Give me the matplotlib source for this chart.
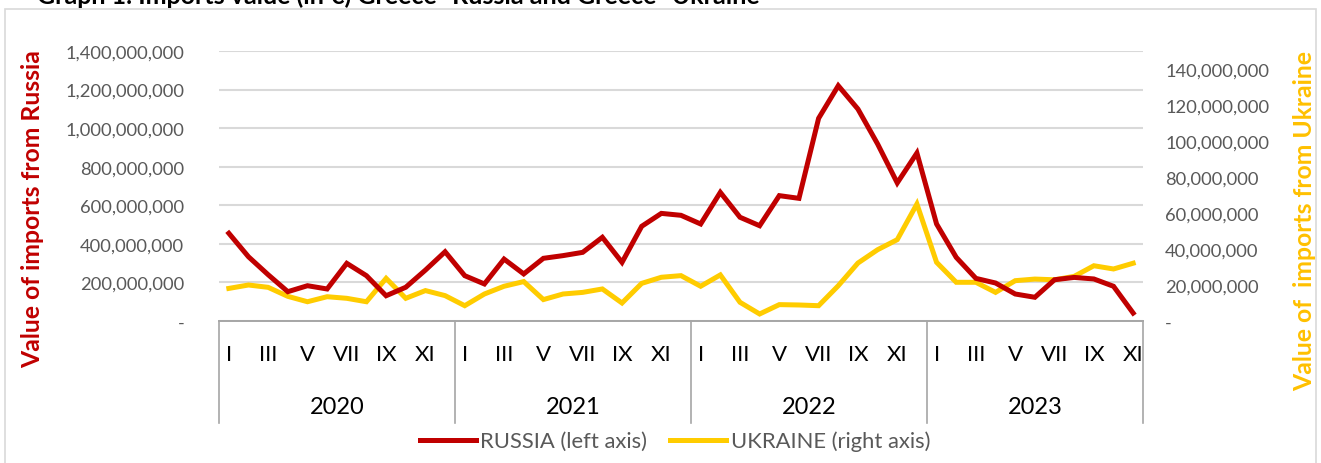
import matplotlib
matplotlib.use("Agg")
import matplotlib.pyplot as plt
from matplotlib.patches import Rectangle
from matplotlib.ticker import FuncFormatter

plt.rcParams['font.family'] = ['Lato', 'DejaVu Sans']

years = ["2020", "2021", "2022", "2023"]
months_per_year = [12, 12, 12, 11]
month_names = ["I", "II", "III", "IV", "V", "VI", "VII", "VIII", "IX", "X", "XI", "XII"]

# monthly import values in EUR
russia = [455e6, 333e6, 240e6, 152e6, 183e6, 166e6, 299e6, 235e6, 131e6, 175e6, 264e6, 359e6,
          235e6, 192e6, 321e6, 244e6, 325e6, 339e6, 356e6, 434e6, 304e6, 491e6, 558e6, 548e6,
          503e6, 667e6, 538e6, 494e6, 650e6, 636e6, 1051e6, 1220e6, 1099e6, 918e6, 716e6, 871e6,
          503e6, 330e6, 221e6, 197e6, 140e6, 123e6, 214e6, 226e6, 218e6, 180e6, 41e6]
ukraine = [18.1e6, 20.0e6, 18.7e6, 13.7e6, 10.7e6, 13.5e6, 12.6e6, 10.7e6, 23.7e6, 12.6e6, 16.9e6, 14.1e6,
           8.5e6, 15.0e6, 19.3e6, 21.9e6, 11.9e6, 15.0e6, 15.9e6, 17.8e6, 10.0e6, 20.9e6, 24.3e6, 25.2e6,
           19.3e6, 25.6e6, 10.4e6, 3.9e6, 9.1e6, 8.9e6, 8.5e6, 19.6e6, 32.2e6, 39.6e6, 45.2e6, 65.0e6,
           32.6e6, 21.5e6, 21.5e6, 15.9e6, 22.4e6, 23.3e6, 22.9e6, 24.8e6, 30.7e6, 28.9e6, 32.1e6]

RED = "#C00000"
GOLD = "#FFC000"
YLINE = "#FFCC00"
W, H = 1321, 464

fig = plt.figure(figsize=(W / 100, H / 100), dpi=100)

# outer frame
fig.patches.append(Rectangle((5 / W, -0.02), 1311 / W, 1 - 10 / H + 0.02, transform=fig.transFigure,
                             fill=False, edgecolor="#D9D9D9", lw=1.2))
fig.text(37 / W, 1 - 4 / H, "Graph 1. Imports value (in \u20ac) Greece- Russia and Greece- Ukraine",
         fontsize=18, fontweight="bold", va="baseline", ha="left")

x0, x1, ytop, ybot = 219, 1143, 52, 322
ax = fig.add_axes([x0 / W, 1 - ybot / H, (x1 - x0) / W, (ybot - ytop) / H])
ax2 = ax.twinx()

n = len(russia)
x = list(range(n))
ax.set_xlim(-0.5, n - 0.5)
ax.set_ylim(0, 1.4e9)
ax.set_yticks([i * 200e6 for i in range(8)])
ax2.set_ylim(0, 150e6)
ax2.set_yticks([i * 20e6 for i in range(8)])

fmt = FuncFormatter(lambda v, p: "-" if v == 0 else "{:,.0f}".format(v))
ax.yaxis.set_major_formatter(fmt)
ax2.yaxis.set_major_formatter(fmt)

ax.grid(axis="y", color="#D9D9D9", lw=1.5)
ax.set_axisbelow(True)
for a in (ax, ax2):
    for s in ("top", "left", "right"):
        a.spines[s].set_visible(False)
    a.spines["bottom"].set_color("#A6A6A6")
    a.spines["bottom"].set_linewidth(1.2)
ax.tick_params(axis="y", length=0, pad=25, labelsize=13.2, labelcolor="#595959")
ax2.tick_params(axis="y", length=0, pad=16, labelsize=13.2, labelcolor="#595959")
ax.set_xticks([])

ax2.plot(x, ukraine, color=YLINE, lw=3.6, solid_joinstyle="miter", zorder=2, label="UKRAINE (right axis)")
ax2.plot(x, [v / 1.4e9 * 150e6 for v in russia], color=RED, lw=3.6,
         solid_joinstyle="miter", zorder=3, label="RUSSIA (left axis)")

# category axis: months and years
tr = ax.get_xaxis_transform()
start = 0
bounds = [-0.5]
for yr, cnt in zip(years, months_per_year):
    for m in range(0, cnt, 2):
        ax.text(start + m, -0.122, month_names[m], transform=tr, ha="center", va="center",
                fontsize=16, clip_on=False)
    ax.text(start + (cnt - 1) / 2, -0.318, yr, transform=tr, ha="center", va="center",
            fontsize=17, clip_on=False)
    start += cnt
    bounds.append(start - 0.5)
for b in bounds:
    ax.plot([b, b], [0, -0.378], transform=tr, color="#A6A6A6", lw=1.2, clip_on=False)

ax.set_ylabel("Value of imports from Russia", color=RED, fontsize=17.8, fontweight="bold",
              va="center", ha="center")
ax.yaxis.set_label_coords(-(x0 - 33) / (x1 - x0), (ybot - 209) / (ybot - ytop))
ax2.set_ylabel("Value of  imports from Ukraine", color=GOLD, fontsize=17.8, fontweight="bold",
               rotation=90, va="center", ha="center")
ax2.yaxis.set_label_coords((1305 - x0) / (x1 - x0), (ybot - 221) / (ybot - ytop))

h2, l2 = ax2.get_legend_handles_labels()
leg = fig.legend(h2[::-1], l2[::-1], loc="center", bbox_to_anchor=(675 / W, 1 - 442 / H), ncol=2,
                 frameon=False, fontsize=15.8, handlelength=2.55, columnspacing=1.05, handletextpad=0.2)
for t in leg.get_texts():
    t.set_color("#595959")

fig.savefig("out.png", dpi=100)
